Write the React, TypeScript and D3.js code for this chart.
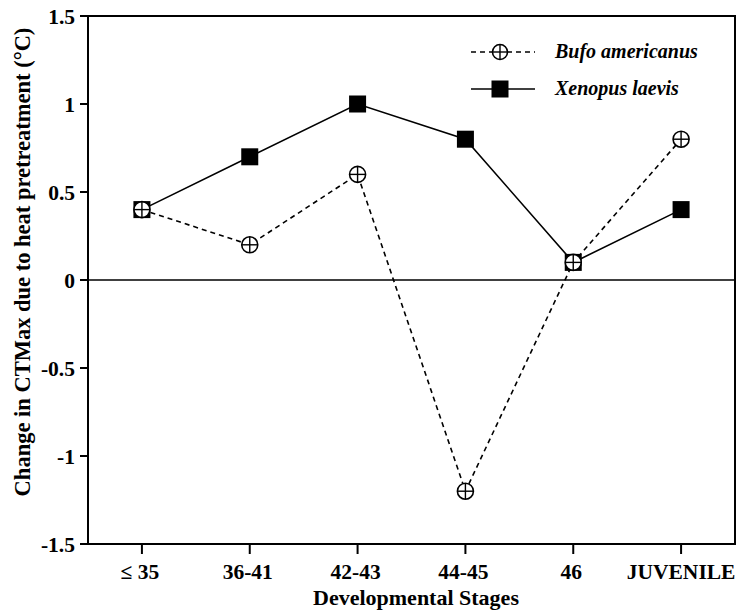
import React from "react";
import * as d3 from "d3";

const stages = ["≤ 35", "36-41", "42-43", "44-45", "46", "JUVENILE"];
const bufo = [0.4, 0.2, 0.6, -1.2, 0.1, 0.8];
const xenopus = [0.4, 0.7, 1.0, 0.8, 0.1, 0.4];
const yTicks = [1.5, 1, 0.5, 0, -0.5, -1, -1.5];
const yTickLabels = ["1.5", "1", "0.5", "0", "-0.5", "-1", "-1.5"];

const W = 737, H = 613;
const L = 88, R = 735, T = 16, B = 544;
const FONT = "'Liberation Serif', 'Times New Roman', serif";

export default function App() {
  const x = d3.scaleBand<string>().domain(stages).range([L, R]).paddingInner(0).paddingOuter(0);
  const cx = (s: string) => (x(s) as number) + x.bandwidth() / 2;
  const y = d3.scaleLinear().domain([-1.5, 1.5]).range([B, T]);
  const line = d3.line<number>().x((_, i) => cx(stages[i])).y((d) => y(d));

  const circ = (px: number, py: number, r: number, key: string) => (
    <g key={key}>
      <circle cx={px} cy={py} r={r} fill="#fff" stroke="#000" strokeWidth={1.6} />
      <line x1={px - r} x2={px + r} y1={py} y2={py} stroke="#000" strokeWidth={1.4} />
      <line x1={px} x2={px} y1={py - r} y2={py + r} stroke="#000" strokeWidth={1.4} />
    </g>
  );
  const sq = 17;

  return (
    <svg width={W} height={H} style={{ position: "absolute", left: 0, top: 0 }} fontFamily={FONT}>
      <rect width={W} height={H} fill="#fff" />
      {/* frame */}
      <rect x={L} y={T} width={R - L} height={B - T} fill="none" stroke="#000" strokeWidth={2} />
      {/* zero line */}
      <line x1={L} x2={R} y1={y(0)} y2={y(0)} stroke="#000" strokeWidth={1.6} />
      {/* y ticks */}
      {yTicks.map((t, i) => (
        <g key={"yt" + i}>
          <line x1={L - 8} x2={L} y1={y(t)} y2={y(t)} stroke="#000" strokeWidth={2} />
          <text x={75} y={y(t)} dy="0.35em" textAnchor="end" fontSize={21.5} fontWeight="bold">
            {yTickLabels[i]}
          </text>
        </g>
      ))}
      {/* x ticks */}
      {stages.map((s) => (
        <g key={"xt" + s}>
          <line x1={cx(s)} x2={cx(s)} y1={B} y2={B + 10} stroke="#000" strokeWidth={2} />
          <text x={cx(s) - (s === "JUVENILE" ? 0 : 2)} y={579} textAnchor="middle" fontSize={21.5} fontWeight="bold">
            {s}
          </text>
        </g>
      ))}
      {/* axis titles */}
      <text x={416} y={605} textAnchor="middle" fontSize={22} fontWeight="bold">
        Developmental Stages
      </text>
      <text
        transform={`translate(30, ${262}) rotate(-90)`}
        textAnchor="middle"
        fontSize={22.5}
        fontWeight="bold"
      >
        Change in CTMax due to heat pretreatment (°C)
      </text>
      {/* Xenopus */}
      <path d={line(xenopus) || ""} fill="none" stroke="#000" strokeWidth={1.6} />
      {xenopus.map((v, i) => (
        <rect key={"xs" + i} x={cx(stages[i]) - sq / 2} y={y(v) - sq / 2} width={sq} height={sq} fill="#000" />
      ))}
      {/* Bufo */}
      <path d={line(bufo) || ""} fill="none" stroke="#000" strokeWidth={1.6} strokeDasharray="5,4" />
      {bufo.map((v, i) => circ(cx(stages[i]), y(v), 8, "bc" + i))}
      {/* legend */}
      <line x1={471} x2={535} y1={52} y2={52} stroke="#000" strokeWidth={1.6} strokeDasharray="5,4" />
      {circ(500, 52, 7.5, "lc")}
      <text x={555} y={58} fontSize={20} fontWeight="bold" fontStyle="italic">Bufo americanus</text>
      <line x1={471} x2={535} y1={89} y2={89} stroke="#000" strokeWidth={1.6} />
      <rect x={500 - sq / 2} y={89 - sq / 2} width={sq} height={sq} fill="#000" />
      <text x={555} y={95} fontSize={20} fontWeight="bold" fontStyle="italic">Xenopus laevis</text>
    </svg>
  );
}
